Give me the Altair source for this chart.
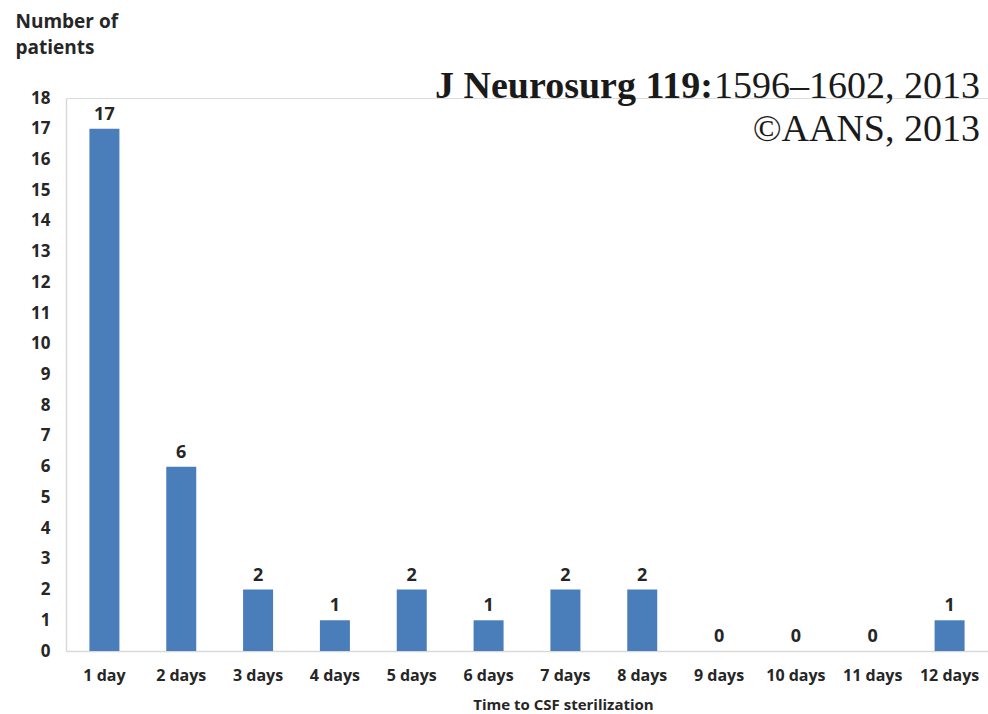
import altair as alt
import pandas as pd

# Time to CSF sterilization (days) and number of patients
categories = ["1 day", "2 days", "3 days", "4 days", "5 days", "6 days",
              "7 days", "8 days", "9 days", "10 days", "11 days", "12 days"]
patients = [17, 6, 2, 1, 2, 1, 2, 2, 0, 0, 0, 1]
y_ticks = list(range(0, 19))

df = pd.DataFrame({"days": categories, "patients": patients})

FONT = "Open Sans"
SERIF = "Liberation Serif"
BLUE = "#4a7ebb"
TEXT = "#262626"
PLOT_W, PLOT_H = 922, 553

x_enc = alt.X(
    "days:N",
    sort=categories,
    scale=alt.Scale(paddingInner=0, paddingOuter=0),
    axis=alt.Axis(
        title="Time to CSF sterilization",
        titleFont=FONT, titleFontSize=15, titleFontWeight="bold", titleColor=TEXT,
        titleX=497, titleY=46, titleBaseline="top", titleAnchor="start", titleAlign="center",
        labelAngle=0, labelFont=FONT, labelFontSize=16, labelFontWeight="bold",
        labelColor=TEXT, labelPadding=16, labelOverlap=False,
        ticks=False, domainColor="#d9d9d9", domainWidth=1.5, grid=False,
    ),
)
y_enc = alt.Y(
    "patients:Q",
    scale=alt.Scale(domain=[0, 18], nice=False),
    axis=alt.Axis(
        # tickCount must not be below the number of listed values, or Vega thins them
        values=y_ticks, tickCount=len(y_ticks) + 1, format="d",
        title=["Number of", "patients"],
        titleFont=FONT, titleFontSize=19, titleFontWeight="bold", titleColor=TEXT,
        titleAngle=0, titleAlign="left", titleBaseline="alphabetic",
        titleX=-51, titleY=-71, titleLineHeight=26,
        labelFont=FONT, labelFontSize=17, labelFontWeight="bold",
        labelColor=TEXT, labelPadding=16, labelOverlap=False, labelFlush=False,
        labelBound=False,
        ticks=False, domainColor="#d9d9d9", domainWidth=1.5, grid=False,
    ),
)

base = alt.Chart(df).encode(x=x_enc, y=y_enc)

bars = base.mark_bar(size=30, color=BLUE)

values = base.mark_text(
    font=FONT, fontSize=18, fontWeight="bold", color=TEXT,
    baseline="bottom", dy=-5,
).encode(text="patients:Q")

# Journal citation in the upper right
cite_num = alt.Chart(pd.DataFrame({"t": ["1596\u20131602, 2013"]})).mark_text(
    font=SERIF, fontSize=38, color="#1a1a1a",
    align="right", baseline="alphabetic",
).encode(x=alt.value(914), y=alt.value(0), text="t:N")

cite_journal = alt.Chart(pd.DataFrame({"t": ["J Neurosurg 119:"]})).mark_text(
    font=SERIF, fontSize=38, fontWeight="bold", color="#1a1a1a",
    align="right", baseline="alphabetic",
).encode(x=alt.value(647), y=alt.value(0), text="t:N")

cite_copy = alt.Chart(pd.DataFrame({"t": ["\u00a9AANS, 2013"]})).mark_text(
    font=SERIF, fontSize=38, color="#1a1a1a",
    align="right", baseline="alphabetic",
).encode(x=alt.value(914), y=alt.value(43), text="t:N")

chart = alt.layer(bars, values, cite_num, cite_journal, cite_copy).properties(
    width=PLOT_W, height=PLOT_H,
    autosize=alt.AutoSizeParams(type="none"),
    padding={"left": 66, "top": 98, "right": 0, "bottom": 63},
).configure_view(stroke=None).configure(background="white")

chart.save("out.html", embed_options={"renderer": "svg", "actions": False})
